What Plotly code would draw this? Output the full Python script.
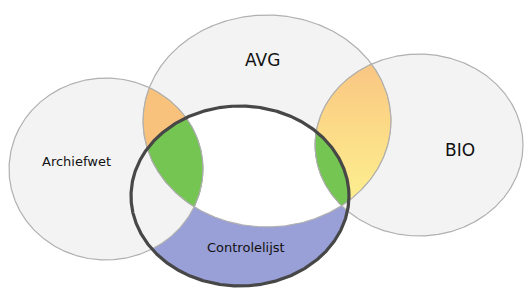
import numpy as np
import plotly.graph_objects as go

# ---- data: the sets of the Venn diagram ----
SETS = ["Archiefwet", "AVG", "BIO", "Controlelijst"]
LABELS = ["Archiefwet", "AVG", "BIO", "Controlelijst"]

# ---- layout: ellipse geometry (pixel space, y down): cx, cy, rx, ry ----
GEOM = {
    "Archiefwet": (106, 169, 97, 91),
    "AVG": (267, 121, 124, 106),
    "BIO": (419, 145, 104, 91),
    "Controlelijst": (240, 196, 109, 90),
}
LABEL_XY = {
    "Archiefwet": (76, 161, 13),
    "AVG": (262, 60, 17),
    "BIO": (460, 150, 17),
    "Controlelijst": (246, 247, 13),
}

GRAY = "#f3f3f3"
ORANGE = "#f8c27c"
YELLOW = "#fde68a"
GREEN = "#74c551"
BLUE = "#999fd7"


def ellipse(name, n=1500):
    cx, cy, rx, ry = GEOM[name]
    t = np.linspace(0, 2 * np.pi, n, endpoint=False)
    return cx + rx * np.cos(t), cy + ry * np.sin(t)


def inside(x, y, name):
    cx, cy, rx, ry = GEOM[name]
    return ((x - cx) / rx) ** 2 + ((y - cy) / ry) ** 2 <= 1.0 + 1e-9


def intersection(names):
    xs, ys = [], []
    for n in names:
        x, y = ellipse(n, 4000)
        m = np.ones_like(x, dtype=bool)
        for o in names:
            if o != n:
                m &= inside(x, y, o)
        xs.append(x[m]); ys.append(y[m])
    x = np.concatenate(xs); y = np.concatenate(ys)
    a = np.arctan2(y - y.mean(), x - x.mean())
    idx = np.argsort(a)
    x, y = x[idx], y[idx]
    return np.append(x, x[0]), np.append(y, y[0])


fig = go.Figure()


def fill(xy, color, grad=None, edge=None):
    x, y = xy
    kw = dict(x=x, y=y, mode="lines", fill="toself", fillcolor=color,
              line=dict(width=0.8 if edge else 0, color=edge or color),
              hoverinfo="skip", showlegend=False)
    if grad:
        kw["fillgradient"] = grad
    fig.add_trace(go.Scatter(**kw))


def closed(name):
    x, y = ellipse(name)
    return np.append(x, x[0]), np.append(y, y[0])


arch, avg, bio, ctrl = SETS

# base circles
for s in (arch, avg, bio):
    fill(closed(s), GRAY)
# pairwise lenses outside the control list
fill(intersection([arch, avg]), ORANGE, edge="#c9b08a")
lx, ly = intersection([avg, bio])
fill((lx, ly), YELLOW, edge="#c9b78a",
     grad=dict(type="vertical", start=ly.min(), stop=ly.max(),
               colorscale=[[0, "#f9c684"], [0.4, "#fcd886"], [1, "#fdf091"]]))
# control list regions
fill(closed(ctrl), BLUE)
fill(intersection([ctrl, avg]), "#ffffff")
fill(intersection([ctrl, arch]), GRAY)
fill(intersection([ctrl, bio]), GRAY)
fill(intersection([ctrl, arch, avg]), GREEN, edge="#5e9a45")
fill(intersection([ctrl, avg, bio]), GREEN, edge="#5e9a45")

# outlines
for s in (arch, avg, bio):
    x, y = closed(s)
    fig.add_trace(go.Scatter(x=x, y=y, mode="lines", line=dict(color="#b0b0b0", width=1.2),
                             hoverinfo="skip", showlegend=False))
x, y = closed(ctrl)
fig.add_trace(go.Scatter(x=x, y=y, mode="lines", line=dict(color="#474747", width=3.2),
                         hoverinfo="skip", showlegend=False))

for s, lab in zip(SETS, LABELS):
    lx, ly, fs = LABEL_XY[s]
    fig.add_annotation(x=lx, y=ly, text=lab, showarrow=False,
                       font=dict(family="DejaVu Sans", size=fs, color="#111111"))

fig.update_layout(
    width=528, height=288, margin=dict(l=0, r=0, t=0, b=0),
    paper_bgcolor="white", plot_bgcolor="white",
    xaxis=dict(range=[0, 528], visible=False, fixedrange=True),
    yaxis=dict(range=[288, 0], visible=False, fixedrange=True),
)
fig.write_html("out.html", config={"displayModeBar": False, "staticPlot": True},
               post_script="document.body.style.margin='0';document.body.style.overflow='hidden';")
